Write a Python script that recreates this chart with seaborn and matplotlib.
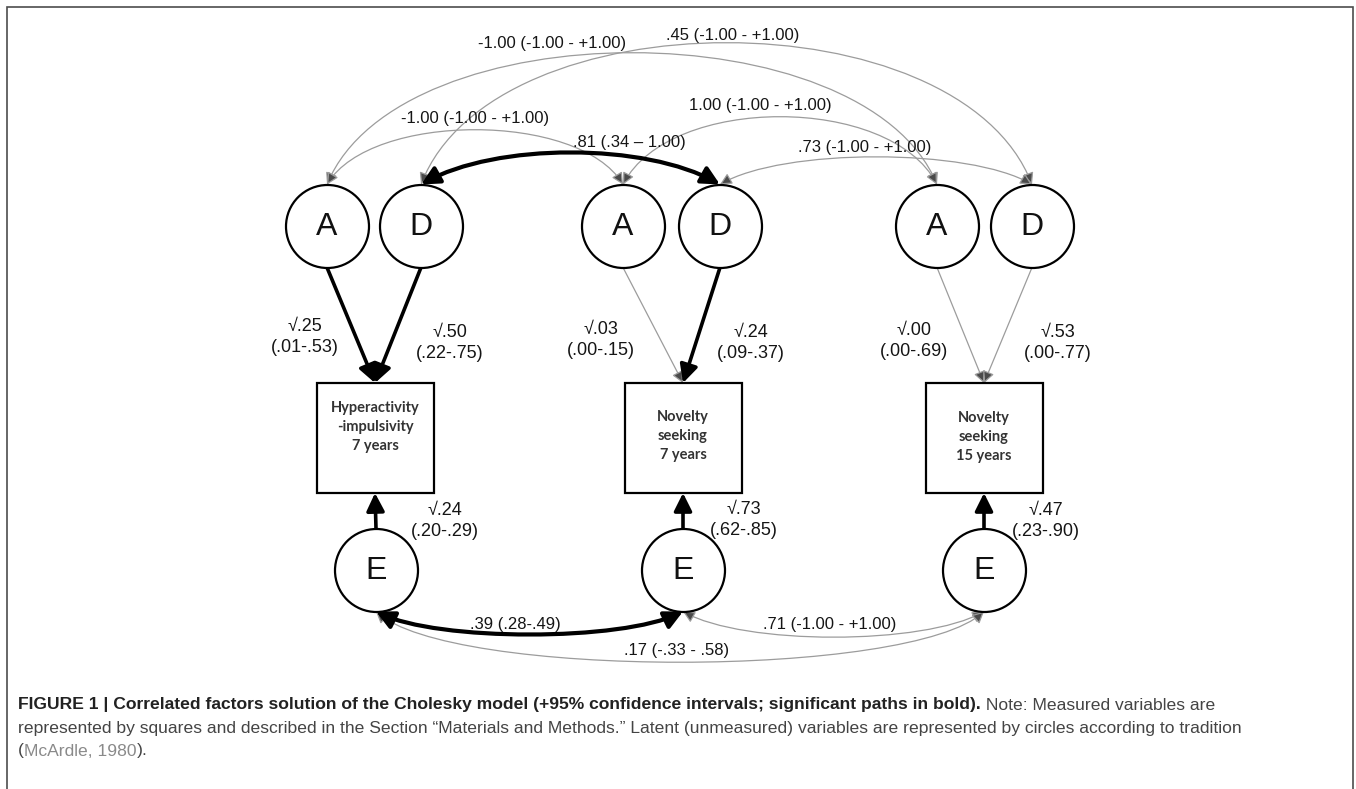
import numpy as np
import pandas as pd
import seaborn as sns
from matplotlib import pyplot as plt
from matplotlib.patches import FancyArrowPatch, Rectangle, ArrowStyle
from matplotlib.path import Path

# ------------------------------------------------------------
# DATA – estimates
# ------------------------------------------------------------
measures = ["Hyperactivity\n-impulsivity\n7 years", "Novelty\nseeking\n7 years", "Novelty\nseeking\n15 years"]

a_est = [".25", ".03", ".00"]
a_ci = ["(.01-.53)", "(.00-.15)", "(.00-.69)"]
a_sig = [True, False, False]

d_est = [".50", ".24", ".53"]
d_ci = ["(.22-.75)", "(.09-.37)", "(.00-.77)"]
d_sig = [True, True, False]

e_est = [".24", ".73", ".47"]
e_ci = ["(.20-.29)", "(.62-.85)", "(.23-.90)"]
e_sig = [True, True, True]

# correlations between latent factors (upper part)
top_pairs = [("A1", "A3"), ("D1", "D3"), ("A1", "A2"), ("A2", "A3"), ("D1", "D2"), ("D2", "D3")]
top_est = ["-1.00", ".45", "-1.00", "1.00", ".81", ".73"]
top_ci = ["(-1.00 - +1.00)", "(-1.00 - +1.00)", "(-1.00 - +1.00)", "(-1.00 - +1.00)", "(.34 \u2013 1.00)", "(-1.00 - +1.00)"]
top_sig = [False, False, False, False, True, False]

# correlations between unique environment factors (lower part)
e_pairs = [("E1", "E2"), ("E2", "E3"), ("E1", "E3")]
e_corr = [".39", ".71", ".17"]
e_corr_ci = ["(.28-.49)", "(-1.00 - +1.00)", "(-.33 - .58)"]
e_corr_sig = [True, False, False]

# ------------------------------------------------------------
# LAYOUT (pixel space of the 1356 x 789 figure)
# ------------------------------------------------------------
node_x = {"A1": 327, "D1": 421, "A2": 623, "D2": 720, "A3": 937, "D3": 1032,
          "E1": 376, "E2": 683, "E3": 984}
top_y, e_y, rad = 226, 570, 41.5
box_cx = [375, 683, 984]
box_w, box_top, box_bot = 117, 383, 493
box_txt_off = [44, 53, 54]

top_peak = [53, 43, 130, 117, 153, 157]
top_f = [0.12, 0.12, 0.15, 0.15, 0.25, 0.2]
top_lab = [(552, 43), (733, 35), (475, 118), (760, 105), (629, 142), (865, 147)]

e_peak = [634, 637, 662]
e_f = [0.2, 0.2, 0.12]
e_lab = [(515, 625), (830, 625), (677, 650)]

a_lab = [(305, 337), (601, 340), (914, 341)]
d_lab = [(450, 343), (751, 343), (1058, 343)]
e_lab_load = [(445, 521), (744, 520), (1046, 521)]

GRAY = "#9c9c9c"
HEAD = "#4a4a4a"
NUM_FONT = ["Liberation Sans", "DejaVu Sans"]

sns.set_theme(style="white")
plt.rcParams["font.family"] = NUM_FONT

fig = plt.figure(figsize=(13.56, 7.89), dpi=100)
ax = fig.add_axes([0, 0, 1, 1])

# frame
ax.plot([7, 7, 1353, 1353], [800, 7, 7, 800], color="#4d4d4d", lw=1.2, solid_joinstyle="miter")


def arc(x0, y0, x1, y1, peak, f, sig):
    yc = y0 + (peak - y0) / 0.75
    dx = x1 - x0
    verts = [(x0, y0), (x0 + f * dx, yc), (x1 - f * dx, yc), (x1, y1)]
    codes = [Path.MOVETO, Path.CURVE4, Path.CURVE4, Path.CURVE4]
    if sig:
        style = ArrowStyle("<|-|>", head_length=0.9, head_width=0.45)
        p = FancyArrowPatch(path=Path(verts, codes), arrowstyle=style, mutation_scale=12,
                            lw=3.0, color="black", zorder=2)
    else:
        style = ArrowStyle("<|-|>", head_length=0.7, head_width=0.35)
        p = FancyArrowPatch(path=Path(verts, codes), arrowstyle=style, mutation_scale=10,
                            lw=0.9, ec=GRAY, fc=HEAD, zorder=1)
    ax.add_patch(p)


def straight(x0, y0, x1, y1, sig):
    if sig:
        style = ArrowStyle("-|>", head_length=0.9, head_width=0.45)
        p = FancyArrowPatch((x0, y0), (x1, y1), arrowstyle=style, mutation_scale=12,
                            lw=2.6, color="black", shrinkA=0, shrinkB=0, zorder=2)
    else:
        style = ArrowStyle("-|>", head_length=0.7, head_width=0.35)
        p = FancyArrowPatch((x0, y0), (x1, y1), arrowstyle=style, mutation_scale=10,
                            lw=0.9, ec=GRAY, fc=HEAD, shrinkA=0, shrinkB=0, zorder=1)
    ax.add_patch(p)


# latent variables as circles
nodes = pd.DataFrame({
    "name": list(node_x.keys()),
    "x": list(node_x.values()),
    "y": [top_y] * 6 + [e_y] * 3,
    "letter": ["A", "D", "A", "D", "A", "D", "E", "E", "E"],
})
marker_s = (2 * rad * 72 / 100) ** 2
sns.scatterplot(data=nodes, x="x", y="y", s=marker_s, marker="o", color="white",
                edgecolor="black", linewidth=1.6, ax=ax, zorder=3, legend=False)
for _, n in nodes.iterrows():
    ax.text(n["x"], n["y"] + 1, n["letter"], ha="center", va="center", fontsize=23,
            color="#111111", zorder=4)
ax.set_xlim(0, 1356)
ax.set_ylim(789, 0)
ax.axis("off")

# measured variables as squares
for i, label in enumerate(measures):
    ax.add_patch(Rectangle((box_cx[i] - box_w / 2, box_top), box_w, box_bot - box_top,
                           fill=False, ec="black", lw=1.6, zorder=3))
    ax.text(box_cx[i], box_top + box_txt_off[i], label, ha="center", va="center", fontsize=10.5,
            fontweight="bold", family=["Lato", "DejaVu Sans"], color="#333333",
            linespacing=1.42, zorder=4)

# loadings
for i in range(3):
    xa, xd = node_x[f"A{i + 1}"], node_x[f"D{i + 1}"]
    straight(xa, top_y + rad, box_cx[i], box_top, a_sig[i])
    straight(xd, top_y + rad, box_cx[i], box_top, d_sig[i])
    straight(node_x[f"E{i + 1}"], e_y - rad, box_cx[i], box_bot, e_sig[i])
    ax.text(*a_lab[i], f"\u221a{a_est[i]}\n{a_ci[i]}", ha="center", va="center",
            fontsize=13, linespacing=1.25, color="#151515")
    ax.text(*d_lab[i], f"\u221a{d_est[i]}\n{d_ci[i]}", ha="center", va="center",
            fontsize=13, linespacing=1.25, color="#151515")
    ax.text(*e_lab_load[i], f"\u221a{e_est[i]}\n{e_ci[i]}", ha="center", va="center",
            fontsize=13, linespacing=1.25, color="#151515")

# correlations among A and D factors
for i, (p, q) in enumerate(top_pairs):
    arc(node_x[p], top_y - rad, node_x[q], top_y - rad, top_peak[i], top_f[i], top_sig[i])
    ax.text(*top_lab[i], f"{top_est[i]} {top_ci[i]}", ha="center", va="center",
            fontsize=12, color="#151515")

# correlations among E factors
for i, (p, q) in enumerate(e_pairs):
    arc(node_x[p], e_y + rad, node_x[q], e_y + rad, e_peak[i], e_f[i], e_corr_sig[i])
    ax.text(*e_lab[i], f"{e_corr[i]} {e_corr_ci[i]}", ha="center", va="center",
            fontsize=12, color="#151515")

# caption
cap_font = ["Liberation Sans Narrow", "Liberation Sans", "DejaVu Sans"]
cap_bold = ("FIGURE 1 | Correlated factors solution of the Cholesky model "
            "(+95% confidence intervals; significant paths in bold).")
cap_rest = " Note: Measured variables are"
cap_line2 = ("represented by squares and described in the Section \u201cMaterials and Methods.\u201d "
             "Latent (unmeasured) variables are represented by circles according to tradition")

fig.canvas.draw()
probe = ax.text(18, 728, cap_line2, fontsize=10, family=cap_font, va="center", ha="left")
w = probe.get_window_extent(fig.canvas.get_renderer()).width
cap_size = 10 * 1225 / w
probe.set_fontsize(cap_size)
probe.set_color("#444444")

t1 = ax.text(18, 705, cap_bold, fontsize=cap_size, family=cap_font, fontweight="bold",
             va="center", ha="left", color="#222222")
ax.annotate(cap_rest, xy=(1, 0), xycoords=t1, va="bottom", ha="left",
            fontsize=cap_size, family=cap_font, color="#444444")
t3 = ax.text(18, 751, "(", fontsize=cap_size, family=cap_font, va="center", ha="left",
             color="#444444")
t4 = ax.annotate("McArdle, 1980", xy=(1, 0), xycoords=t3, va="bottom", ha="left",
                 fontsize=cap_size, family=cap_font, color="#8a8a8a")
ax.annotate(").", xy=(1, 0), xycoords=t4, va="bottom", ha="left",
            fontsize=cap_size, family=cap_font, color="#444444")

plt.savefig("out.png", dpi=100)
